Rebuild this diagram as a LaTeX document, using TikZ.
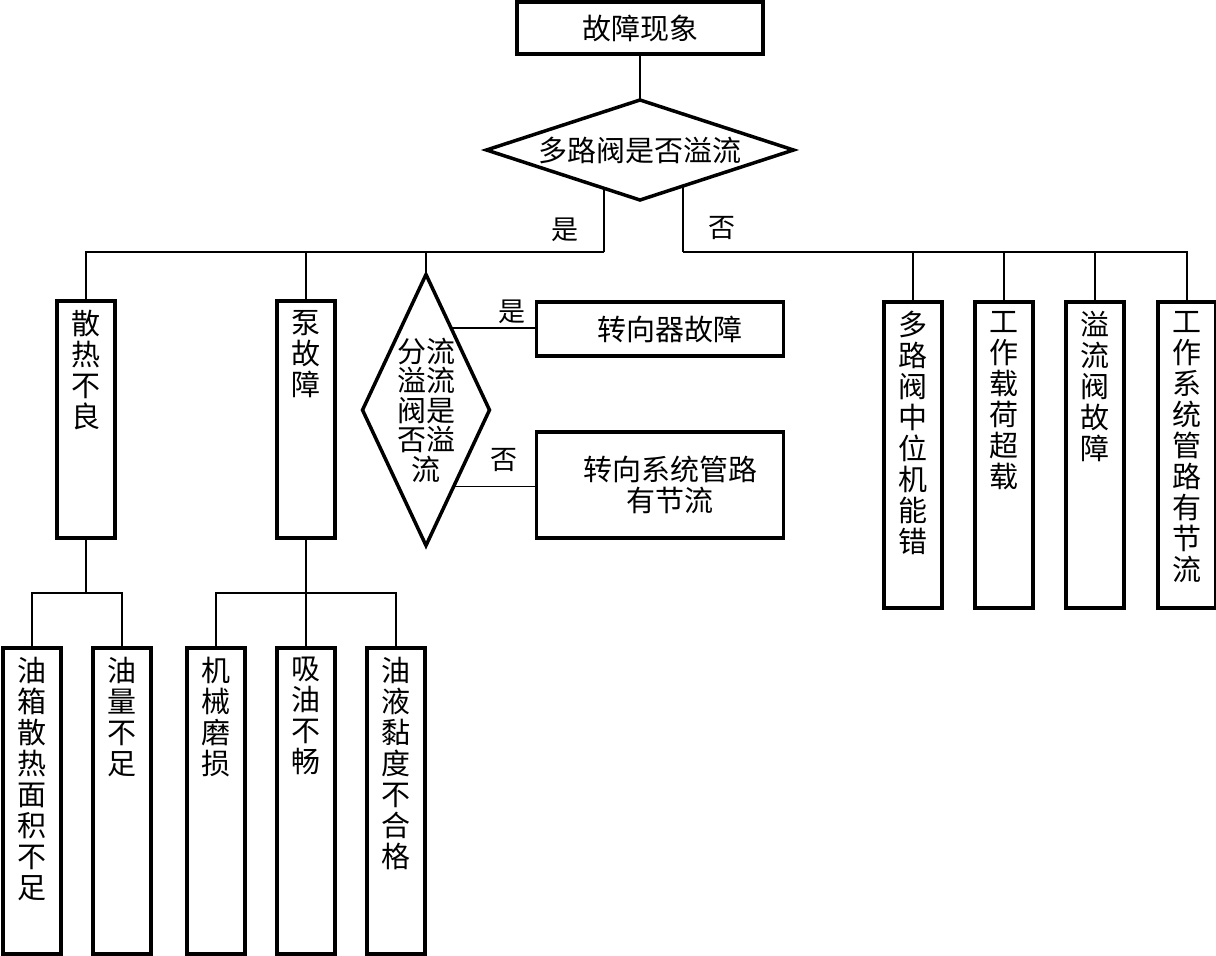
\documentclass[tikz,border=0pt]{standalone}
\usepackage{fontspec}
\setmainfont{Noto Sans CJK SC}
\usetikzlibrary{shapes.geometric, positioning}

% vertical text column, aligned to the top of its box
\newcommand{\coltext}[2]{\parbox[c][#1][t]{32pt}{\centering\vspace*{9pt}#2}}

\begin{document}
\begin{tikzpicture}[
    x=1pt, y=-1pt,
    font=\fontsize{29}{31}\selectfont,
    tbox/.style={rectangle, draw, line width=3.5pt, inner sep=0pt, outer sep=0pt},
    colbox/.style={rectangle, draw, line width=3.5pt, inner sep=0pt, outer sep=0pt, minimum width=58pt, anchor=north},
    dec/.style={diamond, draw, line width=3.5pt, inner sep=0pt, outer sep=0pt},
    lnk/.style={line width=1.5pt},
    yn/.style={font=\fontsize{27}{27}\selectfont, inner sep=0pt}
]
\fill[white] (0,0) rectangle (1216,956);
\useasboundingbox (0,0) rectangle (1216,956);

% top and first decision
\node[tbox, minimum width=246pt, minimum height=52pt] (top) at (640,28) {故障现象};
\node[dec, minimum width=307pt, minimum height=100pt, aspect=3.07] (q1) at (640,150) {多路阀是否溢流};

% left branch
\node[colbox] (b1) at (86,301) {\coltext{237pt}{散\\热\\不\\良}};
\node[colbox] (b2) at (306,301) {\coltext{237pt}{泵\\故\\障}};
\node[dec, minimum width=127pt, minimum height=271pt, aspect=0.47, align=center, font=\fontsize{29}{29.5}\selectfont] (q2) at (426,410) {分流\\溢流\\阀是\\否溢\\流};
\node[tbox, minimum width=247pt, minimum height=54pt] (s1) at (660,329) {\hspace*{20pt}转向器故障};
\node[tbox, minimum width=247pt, minimum height=106pt, align=center] (s2) at (660,485) {\hspace*{20pt}转向系统管路\\\hspace*{20pt}有节流};

\node[colbox] (c1) at (32,648) {\coltext{306pt}{油\\箱\\散\\热\\面\\积\\不\\足}};
\node[colbox] (c2) at (122,648) {\coltext{306pt}{油\\量\\不\\足}};
\node[colbox] (c3) at (216,648) {\coltext{306pt}{机\\械\\磨\\损}};
\node[colbox] (c4) at (306,648) {\coltext{306pt}{吸\\油\\不\\畅}};
\node[colbox] (c5) at (396,648) {\coltext{306pt}{油\\液\\黏\\度\\不\\合\\格}};

% right branch
\node[colbox] (r1) at (913,302) {\coltext{306pt}{多\\路\\阀\\中\\位\\机\\能\\错}};
\node[colbox] (r2) at (1004,302) {\coltext{306pt}{工\\作\\载\\荷\\超\\载}};
\node[colbox] (r3) at (1095,302) {\coltext{306pt}{溢\\流\\阀\\故\\障}};
\node[colbox] (r4) at (1187,302) {\coltext{306pt}{工\\作\\系\\统\\管\\路\\有\\节\\流}};

% yes / no labels
\node[yn] (yes1) at (565,230) {是};
\node[yn] (no1) at (722,228) {否};
\node[yn] (yes2) at (512,312) {是};
\node[yn] (no2) at (504,460) {否};

% bus points
\coordinate (busL) at (q1.227 |- 0,252);
\coordinate (busR) at (q1.320 |- 0,252);
\coordinate (busB1) at (b1.south |- 0,593);
\coordinate (busB2) at (b2.south |- 0,593);

\draw[lnk] (top) -- (q1);
\draw[lnk] (q1.227) -- (busL);
\draw[lnk] (busL) -| (b1.north);
\draw[lnk] (busL) -| (b2.north);
\draw[lnk] (busL) -| (q2.north);
\draw[lnk] (q1.320) -- (busR);
\draw[lnk] (busR) -| (r1.north);
\draw[lnk] (busR) -| (r2.north);
\draw[lnk] (busR) -| (r3.north);
\draw[lnk] (busR) -| (r4.north);

\draw[lnk] (q2.73) -- (q2.73 -| s1.west);
\draw[lnk] (q2.290) -- (q2.290 -| s2.west);

\draw[lnk] (b1.south) -- (busB1);
\draw[lnk] (busB1) -| (c1.north);
\draw[lnk] (busB1) -| (c2.north);
\draw[lnk] (b2.south) -- (busB2);
\draw[lnk] (busB2) -| (c3.north);
\draw[lnk] (busB2) -| (c4.north);
\draw[lnk] (busB2) -| (c5.north);

\end{tikzpicture}
\end{document}
